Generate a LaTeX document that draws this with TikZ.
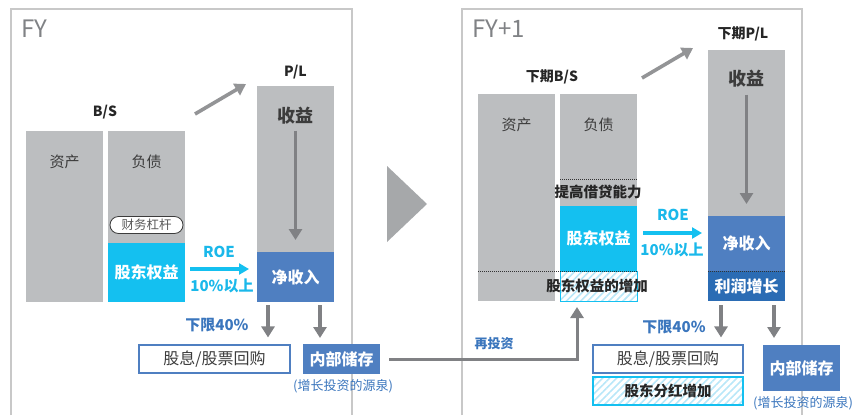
\documentclass[tikz,border=0pt]{standalone}
\usepackage{fontspec}
\setmainfont{Noto Sans CJK SC}
\usetikzlibrary{arrows.meta,patterns.meta}

\definecolor{blkgray}{HTML}{BCBEC0}
\definecolor{eqcyan}{HTML}{14C0F0}
\definecolor{niblue}{HTML}{4F7FC1}
\definecolor{pgblue}{HTML}{2B6CB4}
\definecolor{txtblue}{HTML}{3B76BD}
\definecolor{roecyan}{HTML}{1AB8EA}
\definecolor{arrgray}{HTML}{808184}
\definecolor{framegray}{HTML}{C8C8C8}
\definecolor{fygray}{HTML}{808285}
\definecolor{hatchcyan}{HTML}{B8E7F8}
\definecolor{darktxt}{HTML}{3C3C3C}

\tikzset{
    blk/.style={minimum width=77pt, inner sep=0pt, outer sep=0pt},
    grayblk/.style={blk, fill=blkgray},
    eqblk/.style={blk, fill=eqcyan, text=white, font=\fontsize{16}{18}\selectfont\bfseries},
    niblk/.style={blk, fill=niblue, text=white, font=\fontsize{16}{18}\selectfont\bfseries},
    hatchblk/.style={blk, draw=eqcyan, line width=0.8pt, pattern={Lines[angle=45, distance=5pt, line width=1.6pt]}, pattern color=hatchcyan},
    divbox/.style={minimum width=150pt, minimum height=28pt, inner sep=0pt, draw=niblue, line width=1.1pt, fill=white, text=darktxt, font=\fontsize{16}{18}\selectfont},
    resbox/.style={niblk, minimum width=77pt},
    lbl/.style={font=\fontsize{15}{17}\selectfont, text=darktxt},
    hdr/.style={font=\fontsize{14}{16}\selectfont\bfseries, text=black!85},
    fy/.style={font=\fontsize{24}{26}\selectfont, text=fygray, anchor=west},
    bluetxt/.style={font=\fontsize{15}{17}\selectfont\bfseries, text=txtblue},
    srctxt/.style={font=\fontsize{13}{15}\selectfont, text=txtblue},
    roetxt/.style={font=\fontsize{15}{17}\selectfont\bfseries, text=roecyan},
    garrow/.style={arrgray, line width=3.6pt, -{Triangle[width=13pt, length=11pt]}},
    carrow/.style={eqcyan, line width=3.4pt, -{Triangle[width=11pt, length=10pt]}},
    dotline/.style={black!80, line width=0.6pt, dash pattern=on 1pt off 1pt}
}

\begin{document}
\begin{tikzpicture}[x=1pt, y=-1pt]
    \useasboundingbox (0,0) rectangle (858,415);

    % frames
    \draw[framegray, line width=1.3pt] (11,415) -- (11,9) -- (352,9) -- (352,415);
    \draw[framegray, line width=1.3pt] (462,415) -- (462,9) -- (802,9) -- (802,415);
    \fill[fygray!70] (387,166) -- (427,204) -- (387,242) -- cycle;

    % FY
    \node[fy] (fy1) at (18, 28.5) {FY};
    \node[hdr] (bs1) at (105, 112) {B/S};
    \node[hdr] (pl1t) at (295.5, 72) {P/L};

    \node[grayblk, minimum height=171pt] (a1) at (64.5, 216.5) {};
    \node[grayblk, minimum height=112pt] (l1) at (146.5, 187) {};
    \node[eqblk, minimum height=59pt] (eq1) at (146.5, 272.5) {股东权益};
    \node[lbl] (a1t) at (64.5, 162) {资产};
    \node[lbl] (l1t) at (146.5, 162) {负债};
    \node[draw=darktxt, fill=white, rounded corners=8.5pt, line width=0.8pt, minimum width=73pt, minimum height=17pt, inner sep=0pt, text=darktxt!85, font=\fontsize{12.5}{14}\selectfont] (lev1) at (146.5, 225) {财务杠杆};

    \node[grayblk, minimum height=166pt] (pl1) at (295.5, 169) {};
    \node[niblk, minimum height=50pt] (ni1) at (295.5, 277) {净收入};
    \node[font=\fontsize{18}{20}\selectfont\bfseries, text=darktxt] (rev1) at (295.5, 116) {收益};

    \coordinate (up1s) at (195, 114);
    \coordinate (up1e) at (246, 84);
    \draw[garrow, arrgray!85] (up1s) -- (up1e);
    \draw[garrow, shorten <=2.5pt, shorten >=12pt] (rev1.south) -- (ni1.north);

    \draw[carrow, shorten <=5pt, shorten >=8pt] ([yshift=3.5pt]eq1.east) -- ([yshift=8pt]ni1.west);
    \node[roetxt] (roe1) at (219, 252) {ROE};
    \node[roetxt] (pct1) at (222, 286) {10\%以上};

    \node[divbox, minimum width=151pt] (div1) at (214.5, 359) {股息/股票回购};
    \node[resbox, minimum height=30pt] (res1) at (341.5, 359) {内部储存};
    \node[srctxt] (src1) at (343, 386) {(增长投资的源泉)};
    \node[bluetxt] (low1) at (217, 325) {下限40\%};

    \draw[garrow, shorten <=3pt, shorten >=7pt] ([xshift=-27.5pt]ni1.south) -- ([xshift=53.5pt]div1.north);
    \draw[garrow, shorten <=3pt, shorten >=6pt] ([xshift=24.5pt]ni1.south) -- ([xshift=-21.5pt]res1.north);

    % FY+1
    \node[fy] (fy2) at (469, 28.5) {FY+1};
    \node[hdr] (bs2) at (552, 77) {下期B/S};
    \node[hdr] (pl2t) at (743, 34) {下期P/L};

    \node[grayblk, minimum height=207pt] (a2) at (516.5, 197.5) {};
    \node[grayblk, minimum height=112pt] (l2) at (598.5, 150) {};
    \node[eqblk, minimum height=65pt] (eq2) at (598.5, 238.5) {股东权益};
    \node[hatchblk, minimum height=30pt] (inc2) at (598.5, 286) {};
    \node[lbl] (a2t) at (516.5, 125) {资产};
    \node[lbl] (l2t) at (598.5, 125) {负债};
    \draw[dotline] ([yshift=27pt]l2.south west) -- ([yshift=27pt]l2.south east);
    \draw[dotline] (a2.west |- eq2.south) -- (eq2.south east);
    \node[lbl, font=\fontsize{14.5}{16}\selectfont\bfseries, text=black!85] (cap2) at (598, 192) {提高借贷能力};
    \node[lbl, font=\fontsize{14.5}{16}\selectfont\bfseries, text=black!85] (inc2t) at (597, 286) {股东权益的增加};

    \node[grayblk, minimum height=166pt] (pl2) at (746.5, 133) {};
    \node[niblk, minimum height=55pt] (ni2) at (746.5, 243.5) {净收入};
    \node[niblk, fill=pgblue, minimum height=30pt] (pg2) at (746.5, 286) {利润增长};
    \draw[dotline] (pg2.north west) -- (pg2.north east);
    \node[font=\fontsize{18}{20}\selectfont\bfseries, text=darktxt] (rev2) at (746.5, 79) {收益};

    \coordinate (up2s) at (642, 78);
    \coordinate (up2e) at (693, 48);
    \draw[garrow, arrgray!85] (up2s) -- (up2e);
    \draw[garrow, shorten <=3.5pt, shorten >=12pt] (rev2.south) -- (ni2.north);

    \draw[carrow, shorten <=6pt, shorten >=6pt] ([yshift=5.5pt]eq2.east) -- ([yshift=10.5pt]ni2.west);
    \node[roetxt] (roe2) at (673, 215) {ROE};
    \node[roetxt] (pct2) at (672, 250) {10\%以上};

    \node[divbox] (div2) at (668, 359) {股息/股票回购};
    \node[hatchblk, minimum width=150pt, minimum height=28pt, line width=1.1pt, font=\fontsize{14.5}{16}\selectfont\bfseries, text=black!85] (dvi2) at (668, 391) {股东分红增加};
    \node[resbox, minimum height=46pt] (res2) at (801.5, 368) {内部储存};
    \node[srctxt] (src2) at (803, 403) {(增长投资的源泉)};
    \node[bluetxt] (low2) at (674, 327) {下限40\%};

    \draw[garrow, shorten <=4pt, shorten >=7pt] ([xshift=-25.5pt]pg2.south) -- ([xshift=53pt]div2.north);
    \draw[garrow, shorten <=4pt, shorten >=7pt] ([xshift=27.5pt]pg2.south) -- ([xshift=-27.5pt]res2.north);

    % reinvest
    \draw[garrow, line width=3pt, shorten <=9pt, shorten >=6pt] (res1.east) -| ([xshift=-21.5pt]inc2.south);
    \node[srctxt, font=\fontsize{13}{15}\selectfont\bfseries] (rei) at (494, 344) {再投资};
\end{tikzpicture}
\end{document}
